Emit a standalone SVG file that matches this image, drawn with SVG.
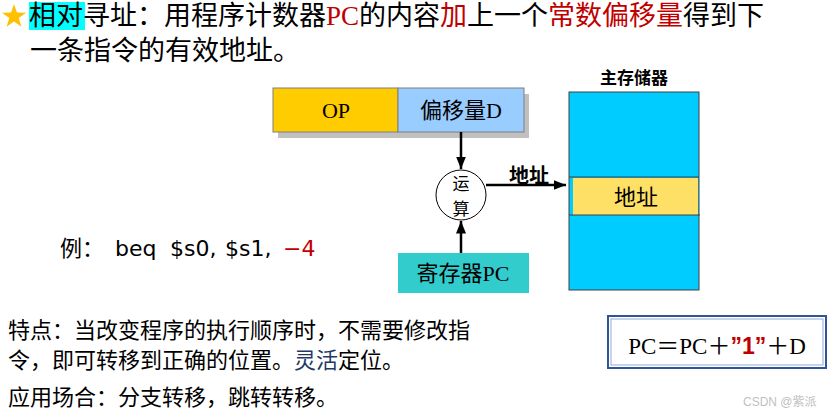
<svg xmlns="http://www.w3.org/2000/svg" width="838" height="418" viewBox="0 0 838 418">
<defs>
<marker id="ah" viewBox="0 0 10 10" refX="10" refY="5" markerWidth="5" markerHeight="5" orient="auto" markerUnits="strokeWidth"><path d="M0,1 L10,5 L0,9 z" fill="#000"/></marker>
</defs>
<style>
.cn{font-family:"Liberation Sans","Noto Sans CJK SC",sans-serif;fill:#000}
.sf{font-family:"Liberation Serif","Noto Sans CJK SC",serif}
.red{fill:#C00000}
.ln{stroke:#000;stroke-width:2.5;fill:none}
.ex{font-family:"DejaVu Sans","Noto Sans CJK SC",sans-serif;font-size:22px;fill:#000}
</style>
<rect width="838" height="418" fill="#fff"/>
<g id="title">
<polygon points="14,4 16.9,12.6 26,12.7 18.7,18.1 21.4,26.8 14,21.5 6.6,26.8 9.3,18.1 2,12.7 11.1,12.6" fill="#FFC000"/>
<rect x="29" y="2" width="56" height="28" fill="#00FFFF"/>
<text class="cn" x="29" y="25" font-size="27">相对寻址：用程序计数器<tspan class="sf red">PC</tspan>的内容<tspan class="red">加</tspan>上一个<tspan class="red">常数偏移量</tspan>得到下</text>
<text class="cn" x="30" y="60" font-size="27">一条指令的有效地址。</text>
</g>
<g id="instr">
<rect x="278" y="94" width="251" height="44" fill="#C0C0C0"/>
<rect x="273" y="88" width="125" height="44" fill="#FFCC00" stroke="#7F7F7F"/>
<rect x="398" y="88" width="126" height="44" fill="#99CCFF" stroke="#7F7F7F"/>
<text class="sf" x="336" y="118" font-size="22" text-anchor="middle">OP</text>
<text class="sf" x="461" y="118" font-size="22" text-anchor="middle">偏移量D</text>
</g>
<g id="alu">
<circle cx="461" cy="195" r="25" fill="#fff" stroke="#000" stroke-width="1"/>
<text class="cn" x="461" y="190" font-size="17" text-anchor="middle">运</text>
<text class="cn" x="461" y="215" font-size="17" text-anchor="middle">算</text>
</g>
<g id="pc">
<rect x="398" y="253" width="131" height="40" fill="#33CCCC"/>
<text class="sf" x="463" y="281" font-size="22" text-anchor="middle">寄存器PC</text>
</g>
<g id="memory">
<text class="cn" x="634" y="84" font-size="17" font-weight="bold" text-anchor="middle">主存储器</text>
<rect x="569" y="92" width="130" height="198" fill="#00CCFF" stroke="#404040" stroke-width="1"/>
<rect x="573" y="178" width="125" height="37" fill="#FFE066"/>
<line x1="569" y1="177" x2="699" y2="177" stroke="#404040"/>
<line x1="569" y1="215" x2="700" y2="215" stroke="#404040"/>
<text class="cn" x="636" y="205" font-size="22" text-anchor="middle">地址</text>
</g>
<g id="connectors">
<line class="ln" x1="461" y1="132" x2="461" y2="169" marker-end="url(#ah)"/>
<line class="ln" x1="461" y1="253" x2="461" y2="221" marker-end="url(#ah)"/>
<line class="ln" x1="486" y1="185" x2="566" y2="185" marker-end="url(#ah)"/>
<text class="cn" x="529" y="183" font-size="20" font-weight="bold" text-anchor="middle">地址</text>
</g>
<g id="example">
<text class="ex" y="256"><tspan x="60">例：</tspan><tspan x="115">beq</tspan><tspan x="170">$s0,</tspan><tspan x="225">$s1,</tspan><tspan x="283" class="red">−4</tspan></text>
</g>
<g id="notes">
<text class="cn" x="8" y="338" font-size="22">特点：当改变程序的执行顺序时，不需要修改指</text>
<text class="cn" x="8" y="368" font-size="22">令，即可转移到正确的位置。<tspan fill="#1F3864">灵活</tspan>定位。</text>
<text class="cn" x="8" y="405" font-size="22">应用场合：分支转移，跳转转移。</text>
</g>
<g id="formula">
<rect x="608" y="316" width="218" height="52" fill="#fff" stroke="#2F5597" stroke-width="2"/>
<rect x="611" y="319" width="212" height="46" fill="none" stroke="#8EA9DB" stroke-width="1"/>
<text class="sf" x="717" y="354" font-size="23" text-anchor="middle">PC＝PC＋<tspan class="red" font-weight="bold" font-family="Liberation Sans,sans-serif">”1”</tspan>＋D</text>
</g>
<text x="743" y="406" font-size="12" fill="#BFBFBF" font-family="Liberation Sans,'Noto Sans CJK SC',sans-serif">CSDN @紫派</text>
</svg>
